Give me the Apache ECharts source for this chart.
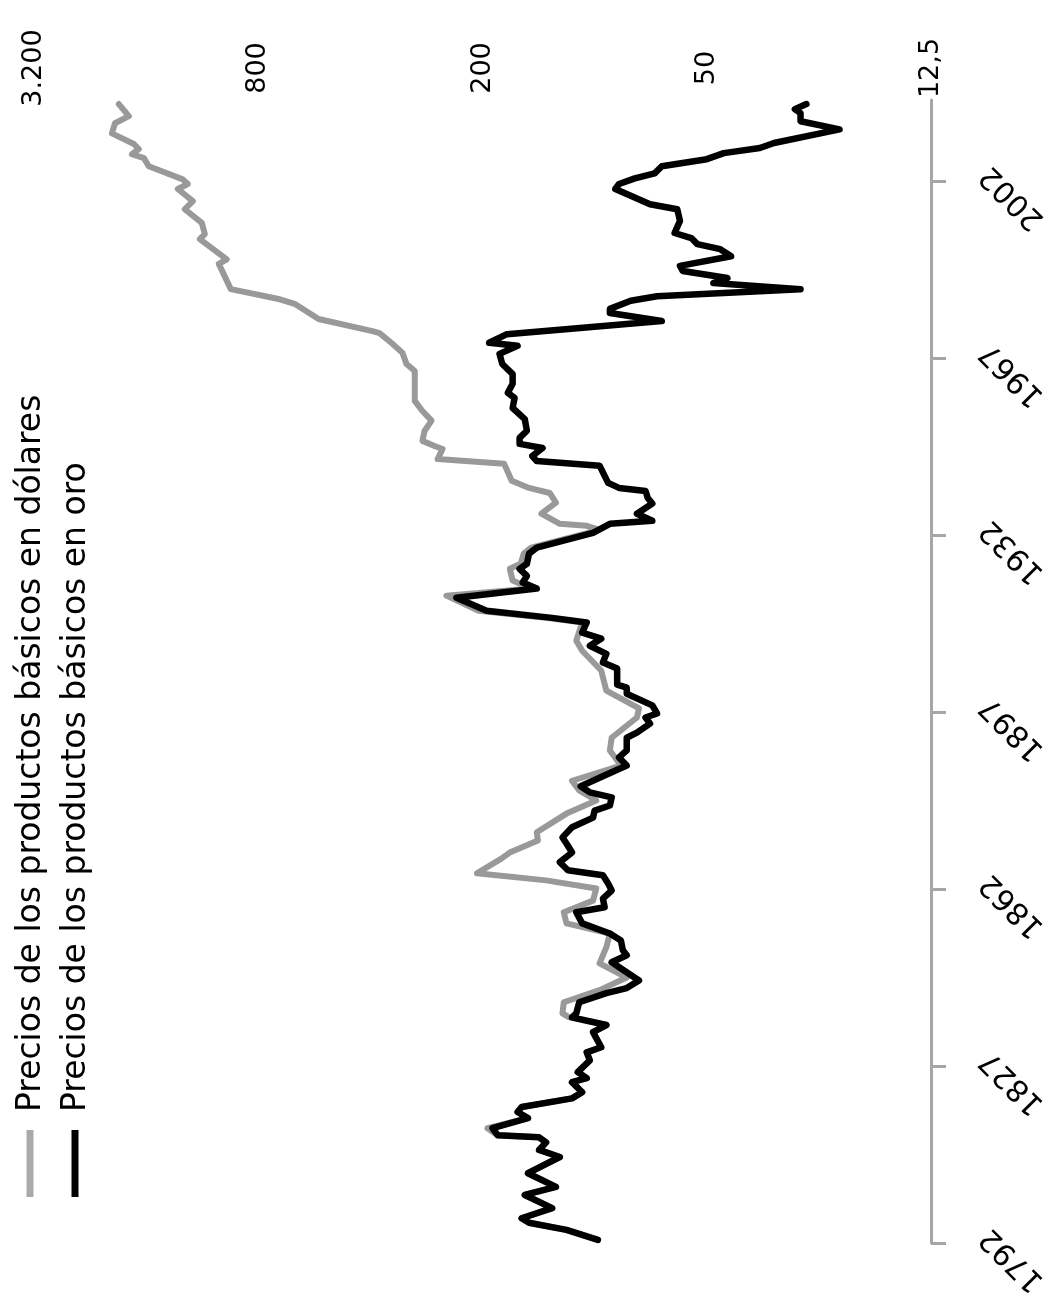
<!DOCTYPE html>
<html>
<head>
<meta charset="utf-8">
<script src="https://cdn.jsdelivr.net/npm/echarts@6/dist/echarts.min.js"></script>
<style>
html,body{margin:0;padding:0;background:#fff;}
#chart{width:1049px;height:1301px;}
</style>
</head>
<body>
<div id="chart"></div>
<script>
const seriesNames = ['Precios de los productos básicos en dólares', 'Precios de los productos básicos en oro'];

const valueTicks = [12.5, 50, 200, 800, 3200];
const valueTickLabels = ['12,5', '50', '200', '800', '3.200'];
const yearTicks = [1792, 1827, 1862, 1897, 1932, 1967, 2002];

const goldYears = [1792.6, 1794.6, 1796.0, 1796.9, 1798.9, 1801.5, 1803.1, 1805.8, 1809.0, 1810.4,
  1811.9, 1812.9, 1813.3, 1814.7, 1816.7, 1817.9, 1818.9, 1820.6, 1821.8, 1823.8,
  1824.6, 1825.8, 1828.1, 1829.7, 1830.7, 1833.7, 1835.1, 1836.6, 1837.4, 1839.6,
  1841.4, 1842.4, 1843.9, 1847.5, 1848.9, 1849.9, 1851.8, 1853.2, 1855.2, 1857.4,
  1858.4, 1860.1, 1861.7, 1863.1, 1864.7, 1865.7, 1867.3, 1869.2, 1871.0, 1872.2,
  1874.2, 1876.1, 1877.5, 1878.5, 1880.1, 1881.1, 1882.3, 1886.4, 1888.0, 1889.4,
  1891.9, 1892.9, 1894.7, 1895.9, 1896.7, 1898.3, 1900.6, 1901.8, 1902.4, 1905.6,
  1906.8, 1908.5, 1910.1, 1911.5, 1912.7, 1914.7, 1915.6, 1917.0, 1919.6, 1921.4,
  1922.6, 1923.9, 1925.3, 1926.3, 1928.3, 1929.5, 1932.4, 1934.2, 1934.8, 1936.2,
  1938.2, 1939.3, 1940.7, 1941.3, 1942.3, 1945.7, 1946.6, 1947.6, 1949.2, 1950.0,
  1951.2, 1952.6, 1954.9, 1957.1, 1959.1, 1960.1, 1961.9, 1963.8, 1965.8, 1967.8,
  1969.4, 1970.0, 1971.7, 1974.3, 1975.9, 1976.7, 1978.3, 1979.2, 1980.6, 1981.8,
  1982.8, 1984.2, 1985.2, 1987.1, 1988.5, 1989.5, 1990.7, 1991.7, 1994.1, 1996.4,
  1997.4, 2000.4, 2001.4, 2002.5, 2003.5, 2004.9, 2006.3, 2007.5, 2008.5, 2009.5,
  2012.2, 2013.8, 2015.4, 2016.2, 2017.2];
const goldValues = [98, 119, 150, 157, 130, 154, 127, 151, 124, 141,
  135, 141, 182, 188, 151, 161, 157, 115, 108, 115,
  105, 111, 103, 105, 96, 101, 93, 115, 112, 110,
  93, 82, 76, 90, 82, 84, 85, 91, 108, 112,
  94, 95, 90, 92, 95, 118, 124, 115, 119, 122,
  115, 101, 100, 91, 90, 103, 109, 82, 86, 82,
  82, 77, 71, 73, 68, 70, 82, 82, 87, 87,
  95, 93, 103, 96, 108, 105, 130, 195, 235, 143,
  156, 152, 159, 152, 150, 143, 101, 91, 70, 77,
  70, 72, 73, 86, 92, 97, 143, 147, 138, 159,
  159, 152, 154, 166, 164, 171, 166, 166, 177, 180,
  161, 192, 172, 66, 91, 91, 80, 68, 28, 48,
  44, 58, 59, 43, 46, 53, 55, 61, 59, 60,
  71, 88, 86, 78, 69, 66, 50, 45, 36, 33,
  22, 28, 28, 29, 27];

const dollarYears = [1792.6, 1794.6, 1796.0, 1796.9, 1798.9, 1801.5, 1803.1, 1805.8, 1809.0, 1810.4,
  1811.9, 1812.9, 1813.3, 1814.7, 1816.7, 1817.9, 1818.9, 1820.6, 1821.8, 1823.8,
  1824.6, 1825.8, 1828.1, 1829.7, 1830.7, 1833.7, 1835.1, 1836.6, 1837.4, 1839.6,
  1842.0, 1844.5, 1847.3, 1850.5, 1853.2, 1855.2, 1857.4, 1859.7, 1862.1, 1863.7,
  1865.1, 1868.0, 1869.2, 1871.6, 1873.2, 1876.9, 1879.5, 1881.5, 1883.4, 1886.4,
  1889.4, 1891.9, 1895.9, 1897.7, 1901.2, 1905.2, 1909.1, 1911.1, 1914.7, 1915.6,
  1917.0, 1920.0, 1921.4, 1923.0, 1925.3, 1926.3, 1928.3, 1929.5, 1932.4, 1933.2,
  1933.8, 1934.2, 1936.2, 1938.4, 1940.3, 1941.3, 1942.7, 1946.1, 1947.0, 1949.0,
  1949.6, 1950.6, 1952.6, 1954.6, 1956.5, 1958.5, 1964.4, 1965.8, 1968.0, 1969.8,
  1971.9, 1972.3, 1974.7, 1977.7, 1978.6, 1980.6, 1985.6, 1986.5, 1990.5, 1991.5,
  1993.7, 1996.4, 1998.0, 2000.4, 2001.4, 2002.3, 2004.9, 2006.5, 2007.3, 2008.3,
  2009.3, 2011.4, 2013.4, 2014.8, 2017.2];
const dollarValues = [98, 119, 150, 157, 130, 154, 127, 151, 124, 141,
  135, 141, 182, 194, 151, 161, 157, 115, 108, 115,
  105, 111, 103, 105, 96, 101, 93, 117, 122, 121,
  97, 82, 97, 93, 91, 119, 121, 101, 99, 135,
  207, 178, 169, 142, 143, 119, 99, 110, 115, 85,
  91, 90, 77, 76, 93, 96, 108, 112, 108, 135,
  205, 250, 148, 166, 169, 158, 155, 148, 104, 99,
  105, 124, 139, 127, 132, 150, 167, 175, 264, 256,
  269, 290, 286, 274, 290, 304, 304, 320, 328, 349,
  378, 395, 551, 639, 700, 948, 1021, 972, 1148, 1113,
  1134, 1260, 1199, 1315, 1237, 1275, 1574, 1622, 1747, 1674,
  1726, 1977, 1940, 1780, 1894];

// ---- Chart ----
const chart = echarts.init(document.getElementById('chart'), null, {renderer: 'canvas'});
const FONT = 'DejaVu Sans';
const goldData = goldYears.map((y, i) => [goldValues[i], y]);
const dollarData = dollarYears.map((y, i) => [dollarValues[i], y]);

function valueLabel(v) {
  let best = 0, bd = Infinity;
  valueTicks.forEach((t, i) => { const d = Math.abs(Math.log(v / t)); if (d < bd) { bd = d; best = i; } });
  return valueTickLabels[best];
}

const option = {
  animation: false,
  backgroundColor: '#ffffff',
  grid: {left: 34, right: 118, top: 100, bottom: 58, containLabel: false, outerBoundsMode: 'none'},
  xAxis: {
    type: 'log', logBase: 4, min: 12.5, max: 3200, inverse: true, position: 'top',
    axisLine: {show: false}, axisTick: {show: false}, splitLine: {show: false},
    axisLabel: {
      customValues: valueTicks, rotate: -90, margin: 32, align: 'center', verticalAlign: 'middle',
      fontSize: 27, fontFamily: FONT, color: '#000',
      formatter: v => valueLabel(v)
    }
  },
  yAxis: {
    type: 'value', min: 1792, max: 2018, position: 'right',
    axisLine: {show: true, lineStyle: {color: '#a6a6a6', width: 3}},
    axisTick: {show: true, customValues: yearTicks, length: 15, lineStyle: {color: '#a6a6a6', width: 3}},
    splitLine: {show: false},
    axisLabel: {
      customValues: yearTicks, rotate: 135, margin: 44, align: 'right', verticalAlign: 'top',
      fontSize: 30, fontFamily: FONT, color: '#000',
      formatter: v => String(v)
    }
  },
  series: [
    {name: seriesNames[0], type: 'line', data: dollarData, showSymbol: false, symbol: 'none',
     lineStyle: {color: '#999999', width: 6, cap: 'round', join: 'round'}, z: 2},
    {name: seriesNames[1], type: 'line', data: goldData, showSymbol: false, symbol: 'none',
     lineStyle: {color: '#000000', width: 6.5, cap: 'round', join: 'round'}, z: 3}
  ],
  graphic: [
    {type: 'line', shape: {x1: 30, y1: 1130, x2: 30, y2: 1197}, style: {stroke: '#aaaaaa', lineWidth: 7}},
    {type: 'line', shape: {x1: 75, y1: 1130, x2: 75, y2: 1197}, style: {stroke: '#000000', lineWidth: 7}},
    {type: 'text', x: 31, y: 1112, rotation: Math.PI / 2,
     style: {text: seriesNames[0], fontSize: 33, fontFamily: FONT, fill: '#000', align: 'left', verticalAlign: 'middle', textAlign: 'left', textVerticalAlign: 'middle'}},
    {type: 'text', x: 76, y: 1112, rotation: Math.PI / 2,
     style: {text: seriesNames[1], fontSize: 33, fontFamily: FONT, fill: '#000', align: 'left', verticalAlign: 'middle', textAlign: 'left', textVerticalAlign: 'middle'}}
  ]
};
chart.setOption(option);
</script>
</body>
</html>
